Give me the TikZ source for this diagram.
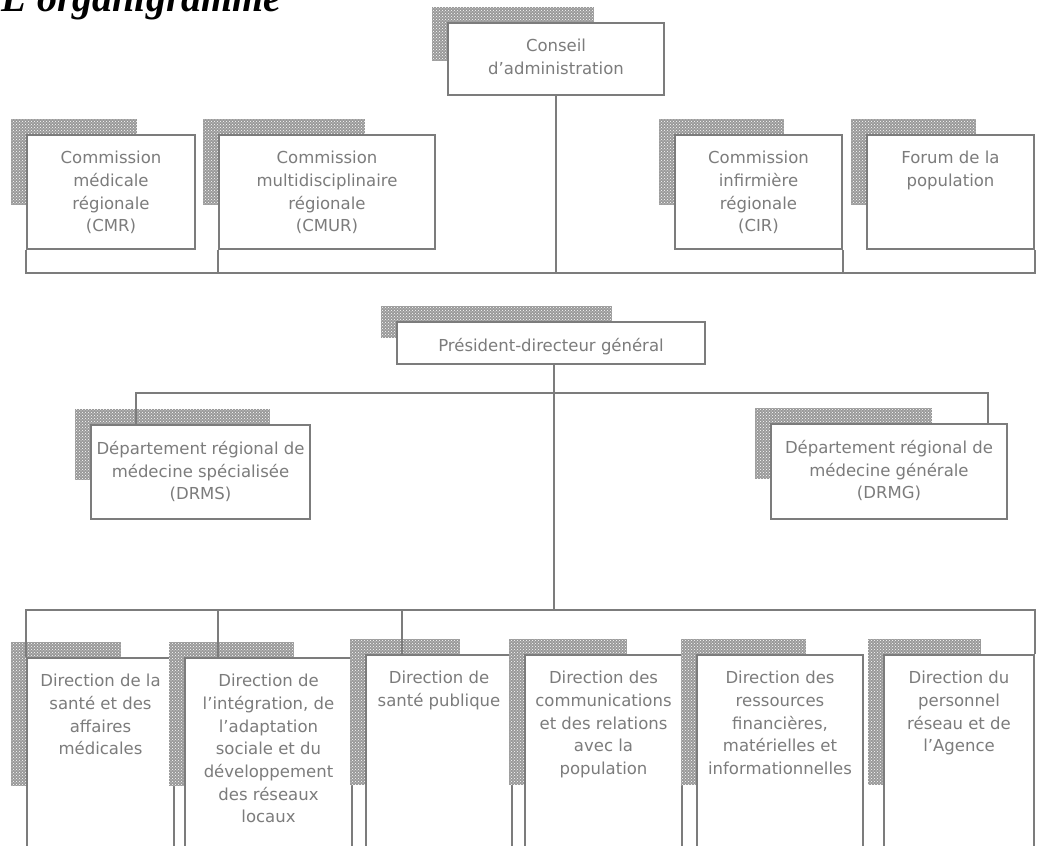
\documentclass[tikz,border=0pt]{standalone}
\usepackage{fontspec}
\setmainfont{DejaVu Sans}
\newfontfamily\titlefont{Liberation Serif}
\usetikzlibrary{calc,patterns}

\definecolor{boxgray}{HTML}{7C7C7C}
\definecolor{shadegray}{HTML}{999999}

\tikzset{
  org box/.style={draw=boxgray, line width=2pt, fill=white, inner sep=0pt, rectangle},
  org text/.style={text=boxgray, align=center, font=\fontsize{16.5}{22.7}\selectfont,
                   inner sep=0pt, anchor=north, yshift=-17pt},
  shade box/.style={fill=shadegray, postaction={pattern=crosshatch dots, pattern color=white}},
  link/.style={draw=boxgray, line width=2pt}
}

% [shadow ratio] name, x, y, width, height, text
\newcommand{\orgbox}[7][0.75]{%
  \fill[shade box] (#3-16,#4-16) rectangle ++(#1*#5,0.75*#6);
  \node[org box, minimum width=#5pt, minimum height=#6pt,
        label={[org text]north:{#7}}] (#2) at (#3+#5/2,#4+#6/2) {};
}

\begin{document}
\begin{tikzpicture}[x=1pt,y=-1pt]
\useasboundingbox (0,0) rectangle (1037,846);
\clip (0,0) rectangle (1037,846);

\node[anchor=base west, font=\titlefont\bfseries\itshape\fontsize{40}{40}\selectfont] (title) at (-2,11) {L’organigramme};

% conseil and commissions
\orgbox{ca}{448}{23}{216}{72}{Conseil\\d’administration}
\orgbox{cmr}{27}{135}{168}{114}{Commission\\médicale\\régionale\\(CMR)}
\orgbox{cmur}{219}{135}{216}{114}{Commission\\multidisciplinaire\\régionale\\(CMUR)}
\orgbox{cir}{675}{135}{167}{114}{Commission\\infirmière\\régionale\\(CIR)}
\orgbox{forum}{867}{135}{167}{114}{Forum de la\\population}

\coordinate (top bus) at (555,273);
\draw[link] (ca.south) -- (ca.south |- top bus);
\draw[link] (cmr.south west) |- (forum.south east |- top bus) -- (forum.south east);
\draw[link] (cmur.south west) -- (cmur.south west |- top bus);
\draw[link] (cir.south east) -- (cir.south east |- top bus);

% president and departments
\orgbox{pdg}{397}{322}{308}{42}{Président-directeur général}
\orgbox[0.89]{drms}{91}{425}{219}{94}{Département régional de\\médecine spécialisée\\(DRMS)}
\orgbox{drmg}{771}{424}{236}{95}{Département régional de\\médecine générale\\(DRMG)}

\coordinate (mid bus) at (554,393);
\coordinate (drms top) at ($(drms.north west)+(46,0)$);
\coordinate (drmg top) at ($(drmg.north east)+(-20,0)$);
\draw[link] (drms top) |- (mid bus) -| (drmg top);

% directions
\orgbox{d1}{27}{658}{147}{192}{Direction de la\\santé et des\\affaires\\médicales}
\orgbox{d2}{185}{658}{167}{192}{Direction de\\l’intégration, de\\l’adaptation\\sociale et du\\développement\\des réseaux\\locaux}
\orgbox{d3}{366}{655}{146}{195}{Direction de\\santé publique}
\orgbox{d4}{525}{655}{157}{195}{Direction des\\communications\\et des relations\\avec la\\population}
\orgbox{d5}{697}{655}{166}{195}{Direction des\\ressources\\financières,\\matérielles et\\informationnelles}
\orgbox{d6}{884}{655}{150}{195}{Direction du\\personnel\\réseau et de\\l’Agence}

\coordinate (low bus) at (554,610);
\coordinate (d2 top) at ($(d2.north west)+(34,0)$);
\coordinate (d3 top) at ($(d3.north west)+(37,0)$);
\draw[link] (low bus |- pdg.south) -- (low bus);
\draw[link] (d1.north west) |- (d6.north east |- low bus) -- (d6.north east);
\draw[link] (d2 top) -- (d2 top |- low bus);
\draw[link] (d3 top) -- (d3 top |- low bus);

\end{tikzpicture}
\end{document}
